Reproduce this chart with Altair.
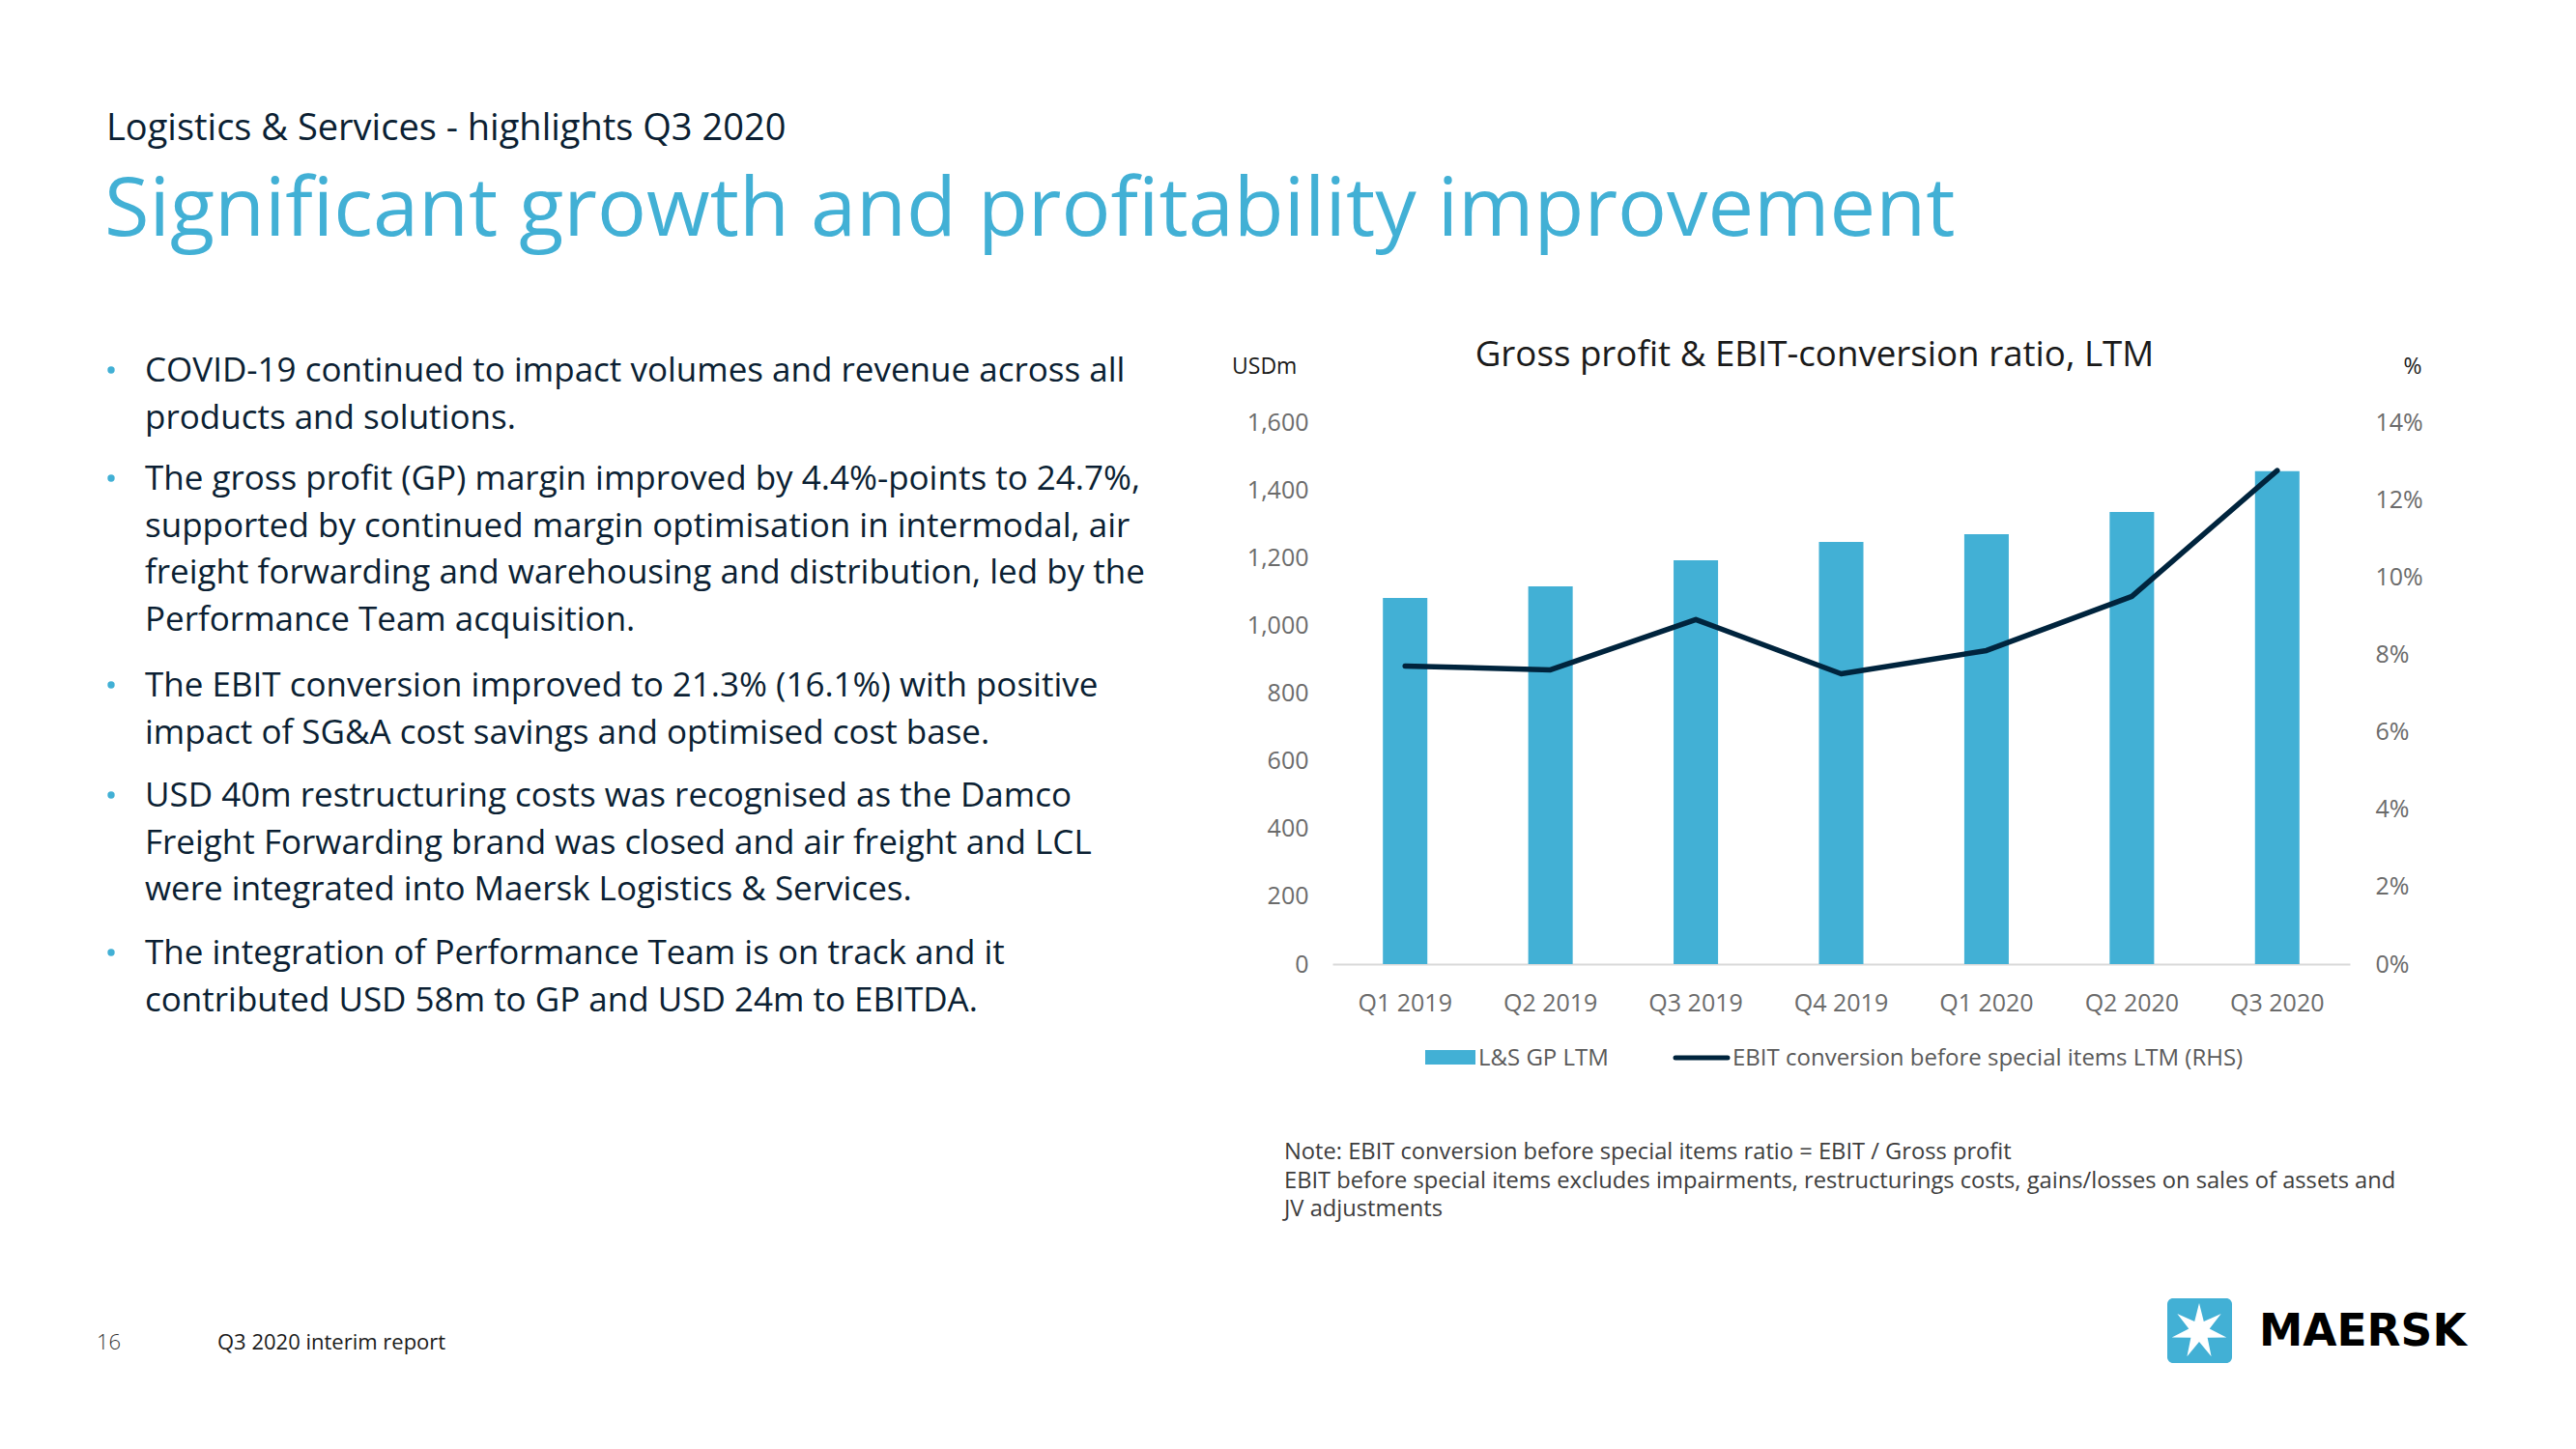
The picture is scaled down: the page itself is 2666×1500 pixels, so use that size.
import math
import altair as alt
import pandas as pd

# ---------------- data ----------------
quarters = ["Q1 2019", "Q2 2019", "Q3 2019", "Q4 2019", "Q1 2020", "Q2 2020", "Q3 2020"]
gp_ltm = [1081, 1115, 1192, 1246, 1269, 1335, 1455]          # USDm
ebit_conv = [7.7, 7.6, 8.9, 7.5, 8.1, 9.5, 12.75]            # %
left_ticks = [0, 200, 400, 600, 800, 1000, 1200, 1400, 1600]
right_ticks = [0, 2, 4, 6, 8, 10, 12, 14]

header = "Logistics & Services - highlights Q3 2020"
big_title = "Significant growth and profitability improvement"
chart_title = "Gross profit & EBIT-conversion ratio, LTM"
bullets = [
    ["COVID-19 continued to impact volumes and revenue across all",
     "products and solutions."],
    ["The gross profit (GP) margin improved by 4.4%-points to 24.7%,",
     "supported by continued margin optimisation in intermodal, air",
     "freight forwarding and warehousing and distribution, led by the",
     "Performance Team acquisition."],
    ["The EBIT conversion improved to 21.3% (16.1%) with positive",
     "impact of SG&A cost savings and optimised cost base."],
    ["USD 40m restructuring costs was recognised as the Damco",
     "Freight Forwarding brand was closed and air freight and LCL",
     "were integrated into Maersk Logistics & Services."],
    ["The integration of Performance Team is on track and it",
     "contributed USD 58m to GP and USD 24m to EBITDA."],
]
note_lines = [
    "Note: EBIT conversion before special items ratio = EBIT / Gross profit",
    "EBIT before special items excludes impairments, restructurings costs, gains/losses on sales of assets and",
    "JV adjustments",
]
legend_bar = "L&S GP LTM"
legend_line = "EBIT conversion before special items LTM (RHS)"
page_no = "16"
footer = "Q3 2020 interim report"
brand = "MAERSK"

df = pd.DataFrame({"quarter": quarters, "gp": gp_ltm, "ebit": ebit_conv})

# ---------------- layout ----------------
CW, CH = 2666, 1500
L, T = 1379, 437          # plot origin on page
W, H = 1053, 561          # plot area
FONT = "Open Sans"
BLUE = "#42b0d5"
NAVY = "#00243d"
DARK = "#0b1f33"
GRAY = "#6b6b6b"


def txt(s, x, y, size, color, align="left", baseline="alphabetic",
        font=FONT, weight="normal", lh=None):
    kw = dict(align=align, baseline=baseline, font=font, fontSize=size,
              color=color, fontWeight=weight)
    if lh is not None:
        kw["lineHeight"] = lh
    return alt.Chart(alt.Data(values=[{"d": 1}])).mark_text(**kw).encode(
        x=alt.value(x - L), y=alt.value(y - T), text=alt.value(s))


x_enc = alt.X("quarter:N", sort=quarters,
              scale=alt.Scale(paddingInner=0.694, paddingOuter=0.347),
              axis=alt.Axis(title=None, labelAngle=0, ticks=False, tickSize=0,
                            domain=True, domainColor="#d9d9d9", domainWidth=2,
                            labelPadding=28, labelFont=FONT, labelFontSize=25,
                            labelColor=GRAY, grid=False))

bars = alt.Chart(df).mark_bar(color=BLUE).encode(
    x=x_enc,
    y=alt.Y("gp:Q", scale=alt.Scale(domain=[0, 1600], nice=False),
            axis=alt.Axis(orient="left", title=None, values=left_ticks, format=",.0f",
                          ticks=False, domain=False, grid=False, labelPadding=25,
                          labelFont=FONT, labelFontSize=25, labelColor=GRAY)))

line = alt.Chart(df).mark_line(color=NAVY, strokeWidth=5.5, strokeCap="round",
                               strokeJoin="round").encode(
    x=x_enc,
    y=alt.Y("ebit:Q", scale=alt.Scale(domain=[0, 14], nice=False),
            axis=alt.Axis(orient="right", title=None, values=right_ticks,
                          labelExpr="datum.value + '%'", ticks=False, domain=False,
                          grid=False, labelPadding=26, labelFont=FONT,
                          labelFontSize=25, labelColor=GRAY)))

layers = [bars, line]

# page texts
layers.append(txt(header, 110, 145, 38, DARK))
layers.append(txt(big_title, 108, 244, 84.8, BLUE))
layers.append(txt(chart_title, 1878, 379, 36.7, "#1a1a1a", align="center"))
layers.append(txt("USDm", 1275, 387, 23, "#1a1a1a"))
layers.append(txt("%", 2497, 387, 23, "#1a1a1a", align="center"))

# bullets
first_baselines = [395, 507, 721, 835, 998]
for lines, b in zip(bullets, first_baselines):
    layers.append(txt(lines, 150, b, 35, DARK, lh=48.7))
    layers.append(alt.Chart(alt.Data(values=[{"d": 1}])).mark_point(
        filled=True, color=BLUE, opacity=1, size=55).encode(
        x=alt.value(115 - L), y=alt.value(b - 12 - T)))

# legend
layers.append(alt.Chart(alt.Data(values=[{"d": 1}])).mark_rect(color=BLUE).encode(
    x=alt.value(1475 - L), x2=alt.value(1527 - L),
    y=alt.value(1087 - T), y2=alt.value(1102 - T)))
layers.append(txt(legend_bar, 1530, 1103, 24, "#595959"))
layers.append(alt.Chart(alt.Data(values=[{"d": 1}])).mark_rule(
    color=NAVY, strokeWidth=5, strokeCap="round").encode(
    x=alt.value(1734 - L), x2=alt.value(1788 - L), y=alt.value(1095 - T)))
layers.append(txt(legend_line, 1793, 1103, 24, "#595959"))

# note
layers.append(txt(note_lines, 1329, 1200, 23.7, "#3d3d3d", lh=29.5))

# footer
layers.append(txt(page_no, 100, 1397, 22, "#333333", weight=300))
layers.append(txt(footer, 225, 1397, 22, "#1a1a1a"))

# logo
layers.append(alt.Chart(alt.Data(values=[{"d": 1}])).mark_rect(
    color=BLUE, cornerRadius=6).encode(
    x=alt.value(2243 - L), x2=alt.value(2310 - L),
    y=alt.value(1344 - T), y2=alt.value(1411 - T)))
pts = []
for k in range(14):
    a = -math.pi / 2 + k * math.pi / 7
    r = 1.0 if k % 2 == 0 else 0.38
    pts.append(f"{r * math.cos(a):.4f},{r * math.sin(a):.4f}")
star_path = "M" + " L".join(pts) + " Z"
layers.append(alt.Chart(alt.Data(values=[{"d": 1}])).mark_point(
    shape=star_path, filled=True, color="white", opacity=1, size=3364,
    strokeWidth=0).encode(x=alt.value(2276 - L), y=alt.value(1378 - T)))
layers.append(txt(brand, 2338, 1393, 45.5, "#000000", font="DejaVu Sans", weight="bold"))

chart = alt.layer(*layers).resolve_scale(y="independent").properties(
    width=W, height=H,
    padding={"left": L, "top": T, "right": CW - L - W, "bottom": CH - T - H},
    autosize=alt.AutoSizeParams(type="none"),
    background="white",
).configure_view(stroke=None)

chart.save("out.html", embed_options={"renderer": "svg", "actions": False})
